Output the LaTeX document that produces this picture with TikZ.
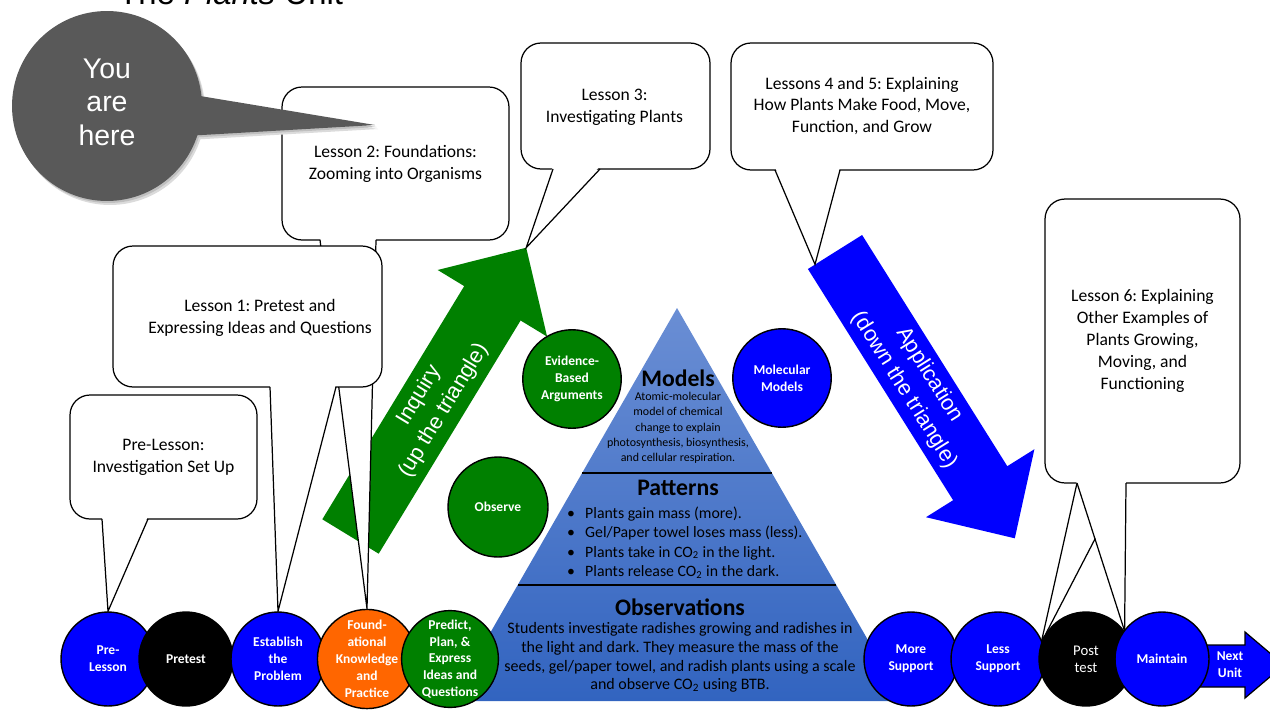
\documentclass[tikz,border=0pt]{standalone}
\usepackage{fontspec}
\setmainfont{Carlito}
\newfontfamily\arialfont{Liberation Sans}
\usetikzlibrary{calc}

\definecolor{calloutgrey}{RGB}{89,89,89}
\definecolor{leafgreen}{RGB}{0,128,0}
\definecolor{vividblue}{RGB}{0,0,255}
\definecolor{fireorange}{RGB}{255,102,0}
\definecolor{pyrtop}{RGB}{106,142,212}
\definecolor{pyrbottom}{RGB}{50,100,192}

\pgfdeclarelayer{back}
\pgfsetlayers{back,main}

% white tail of a speech bubble: left base, right base, tip
\newcommand{\calltail}[3]{%
  \fill[white] ($#1+(0,-3)$) -- #3 -- ($#2+(0,-3)$) -- cycle;
  \draw[tailline] #1 -- #3 -- #2;}

\begin{document}
\frenchspacing
\begin{tikzpicture}[x=0.02cm, y=-0.02cm,
  stage/.style={circle, draw=black, line width=0.8pt, minimum size=1.88cm,
    inner sep=0pt, text=white, align=center,
    font=\fontsize{7.7}{9.6}\selectfont\bfseries},
  midstage/.style={stage, minimum size=1.97cm},
  callbox/.style={draw=black, fill=white, line width=0.7pt,
    rounded corners=0.4cm, inner sep=0pt},
  calltext/.style={align=center, font=\fontsize{10}{12.5}\selectfont},
  tailline/.style={draw=black, line width=0.7pt, line join=miter},
  arrowtext/.style={text=white, align=center,
    font=\arialfont\fontsize{12.4}{16.5}\selectfont},
  pyrhead/.style={font=\fontsize{13.5}{15}\selectfont\bfseries},
  pyrsmall/.style={align=center, font=\fontsize{6.8}{8.7}\selectfont},
  pyrbody/.style={align=center, font=\fontsize{9.1}{10.6}\selectfont},
  pyrlist/.style={align=left, font=\fontsize{9}{11.1}\selectfont}]

\useasboundingbox (0,0) rectangle (1270,710);
\clip (0,0) rectangle (1270,710);

% ---------------- stage circles (front layer) ----------------
\node[stage, fill=vividblue] (prelesson) at (108,659) {Pre-\\Lesson};
\node[stage, fill=black] (pretest) at (186,659) {Pretest};
\node[stage, fill=vividblue] (establish) at (278,659) {Establish\\the\\Problem};
\node[stage, fill=fireorange] (foundational) at (367,659) {Found-\\ational\\Knowledge\\and\\Practice};
\node[stage, fill=leafgreen] (predict) at (450,659) {Predict,\\Plan, \&\\Express\\Ideas and\\Questions};

\node[stage, fill=vividblue] (moresupport) at (911,659) {More\\Support};
\node[stage, fill=vividblue] (lesssupport) at (998,659) {Less\\Support};
\node[stage, fill=black, font=\fontsize{8.4}{9.8}\selectfont] (posttest) at (1086,659) {Post\\test};
\node[stage, fill=vividblue] (maintain) at (1162,659) {Maintain};

\node[midstage, fill=leafgreen] (evidence) at (572,379) {Evidence-\\Based\\Arguments};
\node[midstage, fill=vividblue] (molecular) at (782,378) {Molecular\\Models};
\node[midstage, fill=leafgreen, minimum size=2cm] (observe) at (498,507) {Observe};

% ---------------- everything behind the circles ----------------
\begin{pgfonlayer}{back}
\clip (0,0) rectangle (1270,710);

% unit title
\node[anchor=base west, inner sep=0pt, font=\arialfont\fontsize{18.7}{20}\selectfont]
  (title) at (118,5) {The \textit{Plants} Unit};

% inquiry arrow (up the triangle)
\fill[leafgreen] (322.3,519.3) -- (464.2,286.1) -- (437.7,270.0) -- (526.2,247.7)
  -- (547.1,336.6) -- (520.6,320.5) -- (378.7,553.7) -- cycle;
\coordinate (inquirytip) at (526.2,247.7);
\node[arrowtext, rotate=58.7] (inquiry) at (431.6,403.2) {Inquiry\\(up the triangle)};

% application arrow (down the triangle)
\fill[vividblue] (807.9,269.0) -- (862.1,235.0) -- (1007.3,466.2) -- (1034.4,449.2)
  -- (1014.8,538.3) -- (926.0,517.2) -- (953.1,500.2) -- cycle;
\coordinate (applicationtop) at (815,264.4);
\node[arrowtext, rotate=-57.9] (application) at (916.9,382.4) {Application\\(down the triangle)};

% pyramid of models, patterns, observations
\shade[top color=pyrtop, bottom color=pyrbottom] (677,308) -- (903,701) -- (451,701) -- cycle;
\coordinate (divAl) at (582.3,473);
\coordinate (divAr) at (771.7,473);
\coordinate (divBl) at (518,585);
\coordinate (divBr) at (836,585);
\draw[line width=0.9pt] (divAl) -- (divAr);
\draw[line width=0.9pt] (divBl) -- (divBr);

\node[pyrhead] (models) at (678,378) {Models};
\node[pyrsmall] (modelstext) at (678,428) {Atomic-molecular\\model of chemical\\change to explain\\photosynthesis, biosynthesis,\\and cellular respiration.};
\node[pyrhead] (patterns) at (678,488) {Patterns};
\node[pyrlist, anchor=west] (patternlist) at (561,542.5) {%
  \makebox[0.36cm][l]{\textbullet}Plants gain mass (more).\\
  \makebox[0.36cm][l]{\textbullet}Gel/Paper towel loses mass (less).\\
  \makebox[0.36cm][l]{\textbullet}Plants take in CO\textsubscript{2} in the light.\\
  \makebox[0.36cm][l]{\textbullet}Plants release CO\textsubscript{2} in the dark.};
\node[pyrhead] (observations) at (680,607) {Observations};
\node[pyrbody] (observationstext) at (680,657.5) {Students investigate radishes growing and radishes in\\the light and dark. They measure the mass of the\\seeds, gel/paper towel, and radish plants using a scale\\and observe CO\textsubscript{2} using BTB.};

% next unit arrow
\filldraw[fill=vividblue, draw=black, line width=0.7pt] (1190,645) -- (1245,645) -- (1245,632)
  -- (1284,665) -- (1245,698) -- (1245,687) -- (1190,687) -- cycle;
\node[font=\fontsize{7.7}{9.6}\selectfont\bfseries, text=white, align=center]
  (nextunit) at (1230,665) {Next\\Unit};

% lesson speech bubbles
\node[callbox, minimum width=4.54cm, minimum height=3.06cm] (lessontwo) at (395.5,163.5) {};
\node[calltext] (lessontwotext) at (395.5,164) {Lesson 2: Foundations:\\Zooming into Organisms};
\calltail{(320,240)}{(376,240)}{(foundational.north)}

\node[callbox, minimum width=5.38cm, minimum height=2.82cm] (lessonone) at (247.5,316.5) {};
\node[calltext] (lessononetext) at (260,318) {Lesson 1: Pretest and\\Expressing Ideas and Questions};
\calltail{(270,387)}{(336,387)}{(establish.north)}

\node[callbox, minimum width=3.74cm, minimum height=2.48cm] (prebox) at (163.5,457) {};
\node[calltext] (pretext) at (163.5,457.5) {Pre-Lesson:\\Investigation Set Up};
\calltail{(102,519)}{(148,519)}{(prelesson.north)}

\node[callbox, minimum width=3.78cm, minimum height=2.52cm] (lessonthree) at (615.5,106) {};
\node[calltext] (lessonthreetext) at (614.5,107) {Lesson 3:\\Investigating Plants};
\calltail{(553,169)}{(600,169)}{(inquirytip)}

\node[callbox, minimum width=5.24cm, minimum height=2.54cm] (lessonfour) at (862,106.5) {};
\node[calltext] (lessonfourtext) at (862,106) {Lessons 4 and 5: Explaining\\How Plants Make Food, Move,\\Function, and Grow};
\calltail{(775,170)}{(840,170)}{(applicationtop)}

\node[callbox, minimum width=3.9cm, minimum height=5.68cm] (lessonsix) at (1142.5,341) {};
\node[calltext] (lessonsixtext) at (1142.5,341) {Lesson 6: Explaining\\Other Examples of\\Plants Growing,\\Moving, and\\Functioning};
\calltail{(1077,483)}{(1124,483)}{(posttest.160)}
\calltail{(1077,483)}{(1126,483)}{(posttest.36)}

% "you are here" marker with its soft shadow
\begin{scope}[shift={(3,4)}]
  \fill[black!14] (107,106) circle[radius=1.9cm];
  \fill[black!14] (185,93.5) -- (375,125) -- (185,136) -- cycle;
\end{scope}
\begin{scope}[shift={(1.5,2)}]
  \fill[black!25] (107,106) circle[radius=1.9cm];
  \fill[black!25] (185,93.5) -- (375,125) -- (185,136) -- cycle;
\end{scope}
\fill[calloutgrey] (107,106) circle[radius=1.9cm];
\fill[calloutgrey] (185,93.5) -- (375,125) -- (185,136) -- cycle;
\node[text=white, align=center, font=\arialfont\fontsize{16.2}{19}\selectfont]
  (youarehere) at (107,102) {You\\are\\here};
\end{pgfonlayer}

\end{tikzpicture}
\end{document}
